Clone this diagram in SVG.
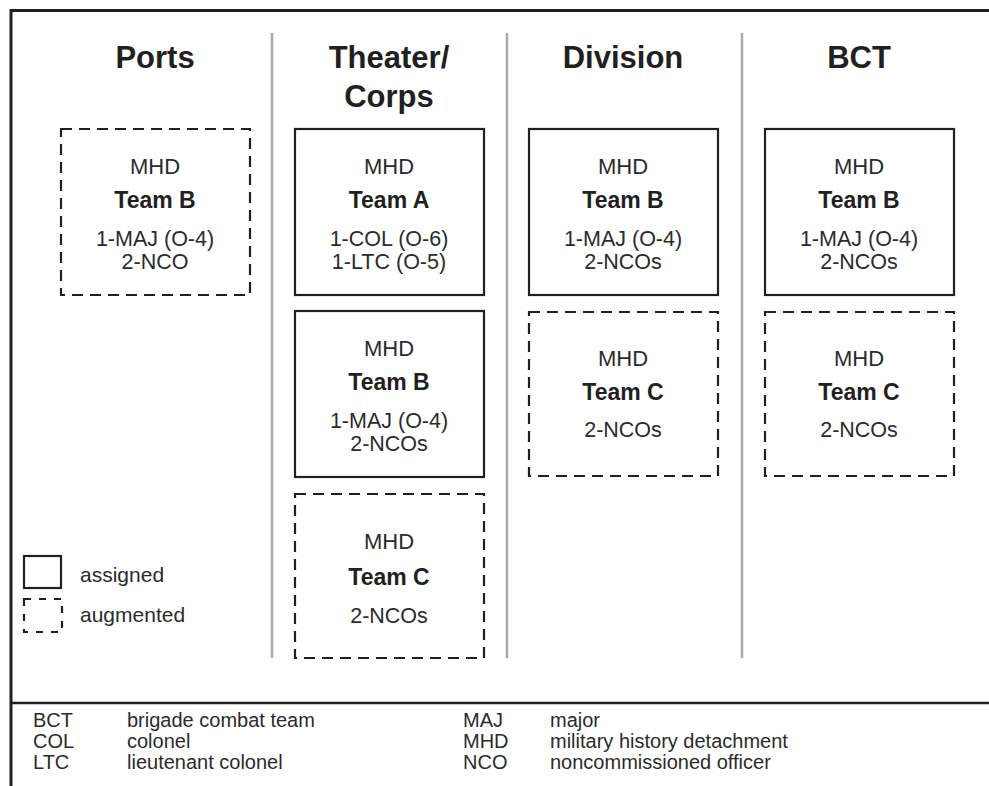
<svg xmlns="http://www.w3.org/2000/svg" width="989" height="786" viewBox="0 0 989 786">
<style>
text{font-family:"Liberation Sans",Arial,sans-serif;fill:#231f20}
.h{font-size:31px;font-weight:bold;text-anchor:middle}
.t{font-size:22px;text-anchor:middle;fill:#2b2b2b}
.d{font-size:21.5px;text-anchor:middle;fill:#2b2b2b}
.b{font-size:23px;font-weight:bold;text-anchor:middle}
.g{font-size:20px;fill:#2b2b2b}
.l{font-size:21px;fill:#2b2b2b}
.solid{fill:none;stroke:#231f20;stroke-width:2.2}
.dash{fill:none;stroke:#231f20;stroke-width:2.2;stroke-dasharray:11 7}
.sep{stroke:#a7a9ac;stroke-width:2.5}
</style>
<rect width="989" height="786" fill="#fff"/>
<g id="frame">
<path d="M11 786V10.5H989" fill="none" stroke="#231f20" stroke-width="3"/>
<line x1="11" y1="703" x2="989" y2="703" stroke="#231f20" stroke-width="2.5"/>
</g>
<g id="separators">
<line class="sep" x1="272" y1="33" x2="272" y2="658"/>
<line class="sep" x1="507" y1="33" x2="507" y2="658"/>
<line class="sep" x1="742" y1="33" x2="742" y2="658"/>
</g>
<g id="headers">
<text class="h" x="155" y="68">Ports</text>
<text class="h" x="389" y="68">Theater/</text>
<text class="h" x="389" y="107">Corps</text>
<text class="h" x="623" y="68">Division</text>
<text class="h" x="859" y="68">BCT</text>
</g>
<g id="ports-teamB">
<rect class="dash" x="61" y="129" width="189" height="166"/>
<text class="t" x="155" y="174">MHD</text>
<text class="b" x="155" y="208">Team B</text>
<text class="d" x="155" y="246">1-MAJ (O-4)</text>
<text class="d" x="155" y="269">2-NCO</text>
</g>
<g id="theater-teamA">
<rect class="solid" x="295" y="129" width="189" height="166"/>
<text class="t" x="389" y="174">MHD</text>
<text class="b" x="389" y="208">Team A</text>
<text class="d" x="389" y="246">1-COL (O-6)</text>
<text class="d" x="389" y="269">1-LTC (O-5)</text>
</g>
<g id="theater-teamB">
<rect class="solid" x="295" y="311" width="189" height="166"/>
<text class="t" x="389" y="356">MHD</text>
<text class="b" x="389" y="390">Team B</text>
<text class="d" x="389" y="428">1-MAJ (O-4)</text>
<text class="d" x="389" y="451">2-NCOs</text>
</g>
<g id="theater-teamC">
<rect class="dash" x="295" y="494" width="189" height="164"/>
<text class="t" x="389" y="549">MHD</text>
<text class="b" x="389" y="585">Team C</text>
<text class="d" x="389" y="623">2-NCOs</text>
</g>
<g id="division-teamB">
<rect class="solid" x="529" y="129" width="189" height="166"/>
<text class="t" x="623" y="174">MHD</text>
<text class="b" x="623" y="208">Team B</text>
<text class="d" x="623" y="246">1-MAJ (O-4)</text>
<text class="d" x="623" y="269">2-NCOs</text>
</g>
<g id="division-teamC">
<rect class="dash" x="529" y="312" width="189" height="164"/>
<text class="t" x="623" y="366">MHD</text>
<text class="b" x="623" y="400">Team C</text>
<text class="d" x="623" y="437">2-NCOs</text>
</g>
<g id="bct-teamB">
<rect class="solid" x="765" y="129" width="189" height="166"/>
<text class="t" x="859" y="174">MHD</text>
<text class="b" x="859" y="208">Team B</text>
<text class="d" x="859" y="246">1-MAJ (O-4)</text>
<text class="d" x="859" y="269">2-NCOs</text>
</g>
<g id="bct-teamC">
<rect class="dash" x="765" y="312" width="189" height="164"/>
<text class="t" x="859" y="366">MHD</text>
<text class="b" x="859" y="400">Team C</text>
<text class="d" x="859" y="437">2-NCOs</text>
</g>
<g id="legend">
<rect class="solid" x="24" y="556" width="37" height="32"/>
<text class="l" x="80" y="582">assigned</text>
<rect x="24" y="599" width="38" height="33" fill="none" stroke="#231f20" stroke-width="2.2" stroke-dasharray="7 8"/>
<text class="l" x="80" y="622">augmented</text>
</g>
<g id="glossary">
<text class="g" x="33" y="727">BCT</text>
<text class="g" x="127" y="727">brigade combat team</text>
<text class="g" x="33" y="748">COL</text>
<text class="g" x="127" y="748">colonel</text>
<text class="g" x="33" y="769">LTC</text>
<text class="g" x="127" y="769">lieutenant colonel</text>
<text class="g" x="463" y="727">MAJ</text>
<text class="g" x="550" y="727">major</text>
<text class="g" x="463" y="748">MHD</text>
<text class="g" x="550" y="748">military history detachment</text>
<text class="g" x="463" y="769">NCO</text>
<text class="g" x="550" y="769">noncommissioned officer</text>
</g>
</svg>
